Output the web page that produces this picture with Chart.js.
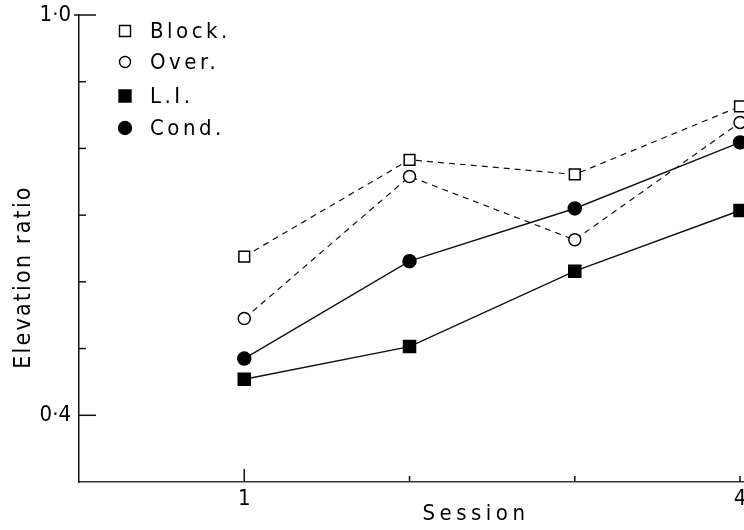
<!DOCTYPE html>
<html><head><meta charset="utf-8">
<script src="https://cdn.jsdelivr.net/npm/chart.js@4"></script>
<style>html,body{margin:0;padding:0;background:#fff;overflow:hidden}#wrap{width:744px;height:530px;position:relative}</style>
</head><body><div id="wrap"><canvas id="c" width="744" height="530"></canvas></div>
<script>
const sessions = [1, 2, 3, 4];
const block = [0.638, 0.783, 0.761, 0.863];
const over  = [0.545, 0.758, 0.663, 0.839];
const li    = [0.454, 0.503, 0.616, 0.707];
const cond  = [0.485, 0.631, 0.710, 0.809];
const seriesNames = ['Block.', 'Over.', 'L.I.', 'Cond.'];
const yTickValues = [0.4, 0.5, 0.6, 0.7, 0.8, 0.9, 1.0];
const yTickLabels = {'0.4': '0·4', '1': '1·0'};
const xTickValues = [1, 2, 3, 4];
const xTickLabels = {'1': '1', '4': '4'};
const xAxisTitle = 'Session';
const yAxisTitle = 'Elevation ratio';

const FONT = '"DejaVu Sans Condensed", "DejaVu Sans", sans-serif';
const toPts = arr => sessions.map((s, i) => ({x: s, y: arr[i]}));

const styles = [
  {dash: [6, 5], point: 'rect', radius: 7.6, fill: '#fff', lw: 1.2},
  {dash: [6, 5], point: 'circle', radius: 6, fill: '#fff', lw: 1.2},
  {dash: [], point: 'rect', radius: 8.5, fill: '#000', lw: 1.4},
  {dash: [], point: 'circle', radius: 6.5, fill: '#000', lw: 1.4}
];
const seriesData = [block, over, li, cond];

const datasets = seriesData.map((d, i) => ({
  label: seriesNames[i],
  data: toPts(d),
  borderColor: '#111',
  borderWidth: styles[i].lw,
  borderDash: styles[i].dash,
  pointStyle: styles[i].point,
  pointRadius: styles[i].radius,
  pointBackgroundColor: styles[i].fill,
  pointBorderColor: '#000',
  pointBorderWidth: 1.5,
  tension: 0,
  clip: false
}));

const decor = {
  id: 'decor',
  afterDraw(chart) {
    const ctx = chart.ctx;
    const xs = chart.scales.x, ys = chart.scales.y;
    const ca = chart.chartArea;
    ctx.save();
    ctx.strokeStyle = '#111';
    ctx.lineWidth = 1.5;
    // inward y ticks
    yTickValues.forEach(v => {
      const y = ys.getPixelForValue(v);
      const len = (v === 0.4 || v === 1.0) ? 17 : 7;
      ctx.beginPath();
      ctx.moveTo(ca.left - (v === 1.0 ? 5 : 0), y);
      ctx.lineTo(ca.left + len, y);
      ctx.stroke();
    });
    // inward x ticks
    xTickValues.forEach(v => {
      const x = xs.getPixelForValue(v);
      const len = v === 1 ? 13 : 6;
      ctx.beginPath();
      ctx.moveTo(x, ca.bottom);
      ctx.lineTo(x, ca.bottom - len);
      ctx.stroke();
    });
    // legend
    ctx.fillStyle = '#000';
    ctx.font = '22px ' + FONT;
    ctx.textBaseline = 'middle';
    ctx.textAlign = 'left';
    ctx.letterSpacing = '3.5px';
    const ly = [31, 62, 96, 128];
    seriesNames.forEach((n, i) => {
      const cx = 125, cy = ly[i];
      ctx.beginPath();
      ctx.lineWidth = 1.4;
      if (styles[i].point === 'rect') {
        const s = i === 0 ? 5.5 : 6;
        ctx.rect(cx - s, cy - s, 2 * s, 2 * s);
      } else {
        ctx.arc(cx, cy, i === 1 ? 5.5 : 6.5, 0, Math.PI * 2);
      }
      ctx.fillStyle = styles[i].fill;
      ctx.fill();
      ctx.strokeStyle = '#000';
      ctx.stroke();
      ctx.fillStyle = '#000';
      ctx.fillText(n, 150, cy + 1);
    });
    // x title
    ctx.textAlign = 'center';
    ctx.letterSpacing = '4.5px';
    ctx.fillText(xAxisTitle, 476, 514);
    // y title
    ctx.font = '23px ' + FONT;
    ctx.translate(24, 278);
    ctx.rotate(-Math.PI / 2);
    ctx.letterSpacing = '2.2px';
    ctx.fillText(yAxisTitle, 1, 0);
    ctx.restore();
  }
};

new Chart(document.getElementById('c'), {
  type: 'line',
  data: {datasets},
  options: {
    responsive: false,
    animation: false,
    events: [],
    layout: {autoPadding: false, padding: {top: 15, left: 0, right: 0, bottom: 0}},
    plugins: {legend: {display: false}, tooltip: {enabled: false}},
    scales: {
      x: {
        type: 'linear', min: 0, max: 4.024,
        afterBuildTicks: s => { s.ticks = xTickValues.map(v => ({value: v})); },
        afterFit: s => { s.height = 48; s.paddingLeft = 0; s.paddingRight = 0; },
        ticks: {
          callback: v => xTickLabels[String(v)] || '',
          color: '#000', font: {family: FONT, size: 22}, padding: 4, maxRotation: 0, autoSkip: false
        },
        grid: {display: true, drawOnChartArea: false, drawTicks: false},
        border: {display: true, color: '#333', width: 1.5}
      },
      y: {
        type: 'linear', min: 0.3, max: 1.0,
        afterBuildTicks: s => { s.ticks = yTickValues.map(v => ({value: v})); },
        afterFit: s => { s.width = 79; s.paddingTop = 0; s.paddingBottom = 0; },
        ticks: {
          callback: v => yTickLabels[String(Math.round(v * 10) / 10)] || '',
          color: '#000', font: {family: FONT, size: 22}, padding: 8, autoSkip: false
        },
        grid: {display: true, drawOnChartArea: false, drawTicks: false},
        border: {display: true, color: '#111', width: 1.5}
      }
    }
  },
  plugins: [decor]
});
</script>
</body></html>
